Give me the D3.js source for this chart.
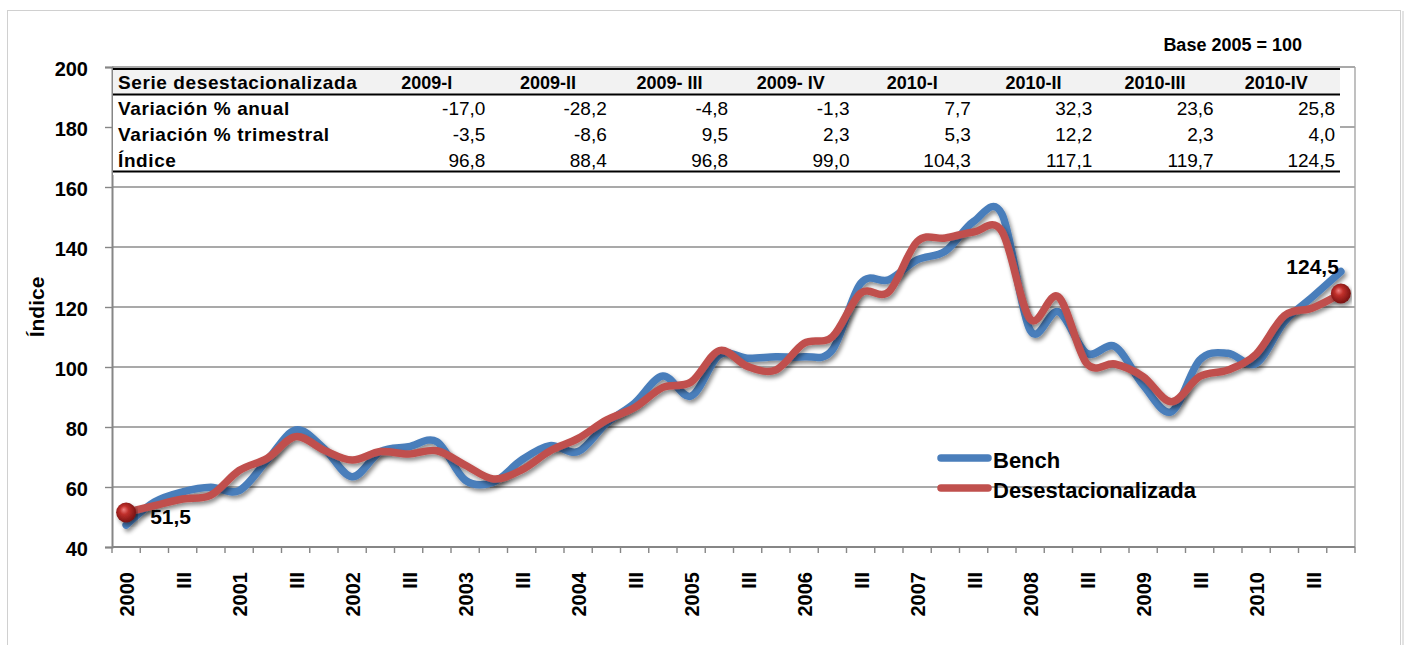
<!DOCTYPE html>
<html>
<head>
<meta charset="utf-8">
<script src="https://cdn.jsdelivr.net/npm/d3@7"></script>
<style>
  body { margin: 0; background: #fff; }
  svg { display: block; font-family: "Liberation Sans", Arial, sans-serif; }
</style>
</head>
<body>
<svg id="chart" width="1412" height="645"></svg>
<script>
// Quarterly series 2000-I .. 2010-IV (Base 2005 = 100)
const years = [2000, 2001, 2002, 2003, 2004, 2005, 2006, 2007, 2008, 2009, 2010];

const bench = [
  47.3, 55.0, 58.4, 59.9, 58.8, 69.0, 79.0, 72.9, 63.4, 71.8, 73.4, 75.1,
  62.3, 61.6, 69.0, 73.8, 71.8, 81.2, 88.0, 97.0, 90.3, 104.0, 102.9, 103.4,
  103.4, 105.7, 127.9, 129.1, 135.7, 138.6, 148.5, 151.0, 112.3, 118.4, 104.6, 106.8,
  94.0, 85.1, 102.3, 104.6, 101.2, 115.1, 123.4, 131.8
];

const desest = [
  51.5, 53.8, 56.0, 57.3, 65.5, 69.6, 76.8, 72.3, 69.0, 71.8, 71.0, 72.1,
  67.3, 62.7, 65.7, 72.0, 76.2, 82.3, 86.5, 93.2, 95.0, 105.5, 100.2, 99.0,
  107.9, 110.1, 124.6, 125.1, 141.8, 143.0, 145.0, 145.2, 116.0, 123.4, 101.2, 101.0,
  96.8, 88.4, 96.8, 99.0, 104.3, 117.1, 119.7, 124.5
];

// Table figures
const tableCols = ["2009-I", "2009-II", "2009- III", "2009- IV", "2010-I", "2010-II", "2010-III", "2010-IV"];
const varAnual = ["-17,0", "-28,2", "-4,8", "-1,3", "7,7", "32,3", "23,6", "25,8"];
const varTrim = ["-3,5", "-8,6", "9,5", "2,3", "5,3", "12,2", "2,3", "4,0"];
const indice = ["96,8", "88,4", "96,8", "99,0", "104,3", "117,1", "119,7", "124,5"];

const yTicks = [40, 60, 80, 100, 120, 140, 160, 180, 200];

// category labels: year on quarter I, "III" on quarter III
const quarterLabels = [];
years.forEach(y => { quarterLabels.push(String(y), "", "III", ""); });

const svg = d3.select("#chart");
const plotLeft = 112, plotRight = 1355, plotTop = 67, plotBottom = 547;

const x = d3.scaleBand()
  .domain(d3.range(bench.length))
  .range([plotLeft, plotRight])
  .padding(0);

const y = d3.scaleLinear()
  .domain([40, 200])
  .range([plotBottom, plotTop]);

const cx = i => x(i) + x.bandwidth() / 2;

// defs: shadow + ball gradient
const defs = svg.append("defs");
const sh = defs.append("filter").attr("id", "shadow")
  .attr("x", "-5%").attr("y", "-10%").attr("width", "110%").attr("height", "130%");
sh.append("feDropShadow")
  .attr("dx", 2).attr("dy", 3).attr("stdDeviation", 2)
  .attr("flood-color", "#000").attr("flood-opacity", 0.45);

const grad = defs.append("radialGradient").attr("id", "ball")
  .attr("cx", "45%").attr("cy", "45%").attr("r", "60%").attr("fx", "38%").attr("fy", "35%");
grad.append("stop").attr("offset", "0%").attr("stop-color", "#f08080");
grad.append("stop").attr("offset", "35%").attr("stop-color", "#c0302b");
grad.append("stop").attr("offset", "100%").attr("stop-color", "#6e0f0f");

// outer frame
svg.append("rect")
  .attr("x", 7.5).attr("y", 10.5).attr("width", 1393).attr("height", 660)
  .attr("fill", "none").attr("stroke", "#d0d0d0");
svg.append("line")
  .attr("x1", 1403).attr("x2", 1403).attr("y1", 11).attr("y2", 645)
  .attr("stroke", "#e3e3e3").attr("stroke-width", 2);

// grid
svg.append("g").selectAll("line")
  .data(yTicks)
  .enter().append("line")
  .attr("x1", plotLeft).attr("x2", plotRight)
  .attr("y1", d => y(d)).attr("y2", d => y(d))
  .attr("stroke", "#8c8c8c").attr("stroke-width", 1.4);

// right border of plot
svg.append("line")
  .attr("x1", plotRight).attr("x2", plotRight).attr("y1", plotTop).attr("y2", plotBottom)
  .attr("stroke", "#a6a6a6").attr("stroke-width", 1.4);

// y axis
const yAxis = d3.axisLeft(y).tickValues(yTicks).tickSize(7).tickPadding(17).tickFormat(d3.format("d"));
const gy = svg.append("g").attr("transform", `translate(${plotLeft},0)`).call(yAxis);
gy.select(".domain").attr("stroke", "#868686").attr("stroke-width", 2);
gy.selectAll(".tick line").attr("stroke", "#868686").attr("stroke-width", 1.4);
gy.selectAll(".tick text")
  .attr("fill", "#000").attr("font-size", 20).attr("font-weight", "bold")
  .attr("font-family", "'Liberation Sans', Arial, sans-serif").attr("dy", "0.42em");

svg.append("text")
  .attr("transform", `translate(44,${(plotTop + plotBottom) / 2}) rotate(-90)`)
  .attr("text-anchor", "middle")
  .attr("font-size", 21).attr("font-weight", "bold")
  .text("Índice");

// x axis
svg.append("line")
  .attr("x1", plotLeft).attr("x2", plotRight).attr("y1", plotBottom).attr("y2", plotBottom)
  .attr("stroke", "#868686").attr("stroke-width", 2);
svg.append("g").selectAll("line")
  .data(d3.range(bench.length + 1))
  .enter().append("line")
  .attr("x1", i => i < bench.length ? x(i) : plotRight)
  .attr("x2", i => i < bench.length ? x(i) : plotRight)
  .attr("y1", plotBottom).attr("y2", plotBottom + 6)
  .attr("stroke", "#868686").attr("stroke-width", 1.4);

svg.append("g").selectAll("text")
  .data(quarterLabels)
  .enter().append("text")
  .attr("transform", (d, i) => `translate(${cx(i) + 1},572) rotate(-90)`)
  .attr("text-anchor", "end")
  .attr("dy", "0.36em")
  .attr("font-size", 20).attr("font-weight", "bold")
  .text(d => d);

// table
const tbl = svg.append("g");
tbl.append("rect").attr("x", 113).attr("y", 68).attr("width", 1227).attr("height", 107).attr("fill", "#fff");
tbl.append("rect").attr("x", 113).attr("y", 69).attr("width", 1227).attr("height", 25).attr("fill", "#f2f2f2");
[69, 94.5, 171.5].forEach(yy => {
  tbl.append("line").attr("x1", 113).attr("x2", 1340).attr("y1", yy).attr("y2", yy)
    .attr("stroke", "#000").attr("stroke-width", 2.2);
});

const tx = d3.scaleBand().domain(tableCols).range([364, 1335]);
const rowBase = [89, 115, 141, 167];
const rowLabels = ["Serie desestacionalizada", "Variación % anual", "Variación % trimestral", "Índice"];
tbl.selectAll(".rowlabel")
  .data(rowLabels)
  .enter().append("text")
  .attr("class", "rowlabel")
  .attr("x", 118).attr("y", (d, i) => rowBase[i])
  .attr("font-size", 19).attr("font-weight", "bold").attr("letter-spacing", 0.6)
  .text(d => d);

tbl.selectAll(".colhead")
  .data(tableCols)
  .enter().append("text")
  .attr("class", "colhead")
  .attr("x", d => tx(d) + tx.bandwidth() / 2 + 2).attr("y", rowBase[0])
  .attr("text-anchor", "middle")
  .attr("font-size", 18).attr("font-weight", "bold")
  .text(d => d);

[varAnual, varTrim, indice].forEach((row, r) => {
  tbl.selectAll(".val" + r)
    .data(row)
    .enter().append("text")
    .attr("x", (d, i) => tx(tableCols[i]) + tx.bandwidth()).attr("y", rowBase[r + 1])
    .attr("text-anchor", "end")
    .attr("font-size", 19)
    .text(d => d);
});

svg.append("text")
  .attr("x", 1302).attr("y", 51)
  .attr("text-anchor", "end")
  .attr("font-size", 18).attr("font-weight", "bold")
  .text("Base 2005 = 100");

// lines
const line = d3.line()
  .x((d, i) => cx(i))
  .y(d => y(d))
  .curve(d3.curveCardinal.tension(0));

svg.append("path")
  .datum(bench)
  .attr("d", line)
  .attr("fill", "none").attr("stroke", "#4a7ebb").attr("stroke-width", 7.5)
  .attr("stroke-linecap", "round").attr("stroke-linejoin", "round")
  .attr("filter", "url(#shadow)");

svg.append("path")
  .datum(desest)
  .attr("d", line)
  .attr("fill", "none").attr("stroke", "#c0504d").attr("stroke-width", 7.5)
  .attr("stroke-linecap", "round").attr("stroke-linejoin", "round")
  .attr("filter", "url(#shadow)");

// end point balls + labels
const ends = [0, desest.length - 1];
svg.append("g").selectAll("circle")
  .data(ends)
  .enter().append("circle")
  .attr("cx", i => cx(i)).attr("cy", i => y(desest[i]))
  .attr("r", 10)
  .attr("fill", "url(#ball)")
  .attr("filter", "url(#shadow)");

svg.append("text")
  .attr("x", cx(0) + 24).attr("y", y(desest[0]) + 11)
  .attr("font-size", 21).attr("font-weight", "bold")
  .text("51,5");
svg.append("text")
  .attr("x", cx(desest.length - 1) - 2).attr("y", y(desest[desest.length - 1]) - 20)
  .attr("text-anchor", "end")
  .attr("font-size", 21).attr("font-weight", "bold")
  .text("124,5");

// legend
const legend = [
  { name: "Bench", color: "#4a7ebb", y: 458 },
  { name: "Desestacionalizada", color: "#c0504d", y: 488 }
];
const lg = svg.append("g");
lg.selectAll("line")
  .data(legend)
  .enter().append("line")
  .attr("x1", 941).attr("x2", 988)
  .attr("y1", d => d.y).attr("y2", d => d.y)
  .attr("stroke", d => d.color).attr("stroke-width", 7.5).attr("stroke-linecap", "round");
lg.selectAll("text")
  .data(legend)
  .enter().append("text")
  .attr("x", 993).attr("y", d => d.y + 10)
  .attr("font-size", 22).attr("font-weight", "bold")
  .text(d => d.name);
</script>
</body>
</html>
